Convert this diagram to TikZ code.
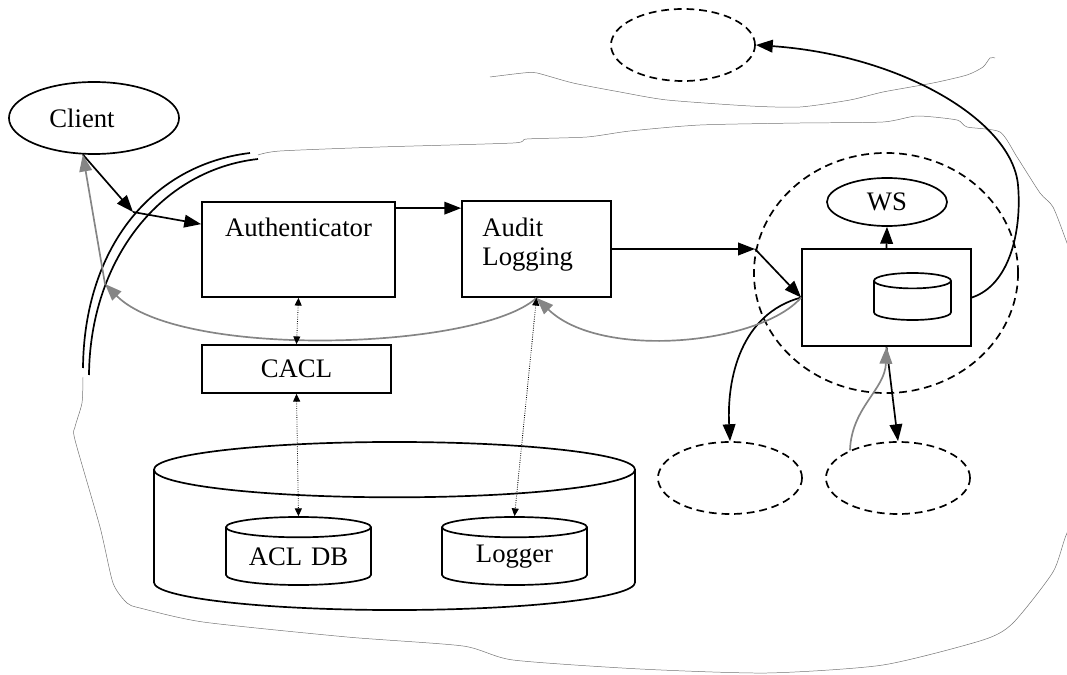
\documentclass[tikz,border=0pt]{standalone}
\usepackage{fontspec}
\setmainfont{Liberation Serif}
\usetikzlibrary{arrows.meta,shapes.geometric,calc}

\begin{document}
\begin{tikzpicture}[x=0.025cm, y=-0.025cm,
    font=\fontsize{19}{20}\selectfont,
    box/.style={draw, line width=1.2pt, inner sep=0pt},
    oval/.style={draw, ellipse, line width=1.2pt, inner sep=0pt},
    db/.style={draw, cylinder, shape border rotate=90, line width=1.2pt, inner sep=0pt, align=center, anchor=shape center},
    cloud/.style={oval, dash pattern=on 5.5pt off 3.5pt, minimum width=3.6cm, minimum height=1.8cm},
    blk/.style={-{Triangle[length=12pt,width=9pt]}, line width=1.2pt},
    gry/.style={blk, color=black!48},
    dotlink/.style={{Triangle[length=5.5pt,width=5pt]}-{Triangle[length=5.5pt,width=5pt]}, densely dotted, line width=0.6pt},
    hand/.style={color=black!55, line width=0.35pt}]
  \useasboundingbox (0,0) rectangle (1067,675);
  \clip (0,0) rectangle (1067,675);
  \draw[hand] plot[smooth, tension=0.4] coordinates {(258,155) (280,151) (380,147) (513,143) (527,139) (587,137) (630,131) (700,125) (800,123) (883,122) (917,116) (957,120) (967,127) (1000,132) (1017,157) (1040,193) (1053,207) (1067,243) (1095,320) (1095,480) (1067,533) (1053,572) (1013,623) (983,640) (883,665) (767,673) (640,669) (513,660) (463,646) (347,637) (203,622) (140,608) (127,603) (113,583) (100,527) (75,440) (75,427) (82,403) (83,377)};
  \draw[hand] plot[smooth, tension=0.4] coordinates {(490,77) (523,73) (537,73) (573,83) (620,92) (667,100) (750,106) (800,107) (850,100) (883,92) (933,83) (967,75) (983,67) (990,58) (995,58)};
  \node[oval, minimum width=4.25cm, minimum height=1.8cm, label={[inner sep=0pt, xshift=-0.3cm]center:Client}] (client) at (94,118) {};
  \node[box, minimum width=4.825cm, minimum height=2.375cm, label={[anchor=north, inner sep=0pt, yshift=-0.425cm]north:Authenticator}] (auth) at (298.5,249.5) {};
  \node[box, minimum width=3.725cm, minimum height=2.4cm, label={[anchor=north west, align=left, inner sep=0pt, xshift=0.525cm, yshift=-0.45cm]north west:{Audit\\Logging}}] (audit) at (536.5,249) {};
  \node[box, minimum width=4.725cm, minimum height=1.2cm] (cacl) at (296.5,369) {CACL};
  \node[db, text width=12.025cm, minimum height=4.2cm, aspect=0.115] (store) at (394.5,526) {};
  \node[db, text width=3.625cm, minimum height=1.7cm, aspect=0.14] (acldb) at (298.5,551) {ACL DB};
  \node[db, text width=3.625cm, minimum height=1.7cm, aspect=0.14] (logger) at (514.5,551) {Logger};
  \node[cloud, minimum width=6.6cm, minimum height=6cm] (ring) at (886,273) {};
  \node[box, minimum width=4.225cm, minimum height=2.425cm] (wsbox) at (886.5,297.5) {};
  \node[db, text width=1.925cm, minimum height=1.175cm, aspect=0.2] (cache) at (912.5,296.5) {};
  \node[oval, minimum width=3cm, minimum height=1.2cm] (ws) at (887,202) {WS};
  \node[cloud] (far) at (683,45) {};
  \node[cloud] (peerl) at (730,478) {};
  \node[cloud] (peerr) at (898,478) {};
  \coordinate (cross) at (133,212);
  \coordinate (turn) at (755,249);
  \coordinate (back) at (105,284);
  \draw[line width=1.2pt] (83,368) .. controls (84,250) and (150,165) .. (250,153);
  \draw[line width=1.2pt] (89,375) .. controls (90,260) and (160,170) .. (258,159);
  \draw[blk] (client.253) -- (cross);
  \draw[blk] (cross) -- ($(auth.north west)+(0,23)$);
  \draw[blk] ($(auth.north east)+(0,7)$) -- ($(audit.north west)+(0,8)$);
  \draw[blk] (audit.east) -- (turn);
  \draw[blk] (turn) -- (wsbox.west);
  \draw[blk] (wsbox.north) -- (ws.south);
  \draw[blk] (wsbox.south) -- (peerr.north);
  \draw[blk] (wsbox.west) to[out=195, in=93] (peerl.north);
  \draw[blk] (wsbox.east) .. controls (1010,285) and (1022,230) .. (1018,185) .. controls (1012,120) and (900,55) .. (far.east);
  \draw[gry] (wsbox.west) .. controls (760,345) and (600,360) .. (audit.south);
  \draw[gry] (audit.south) .. controls (480,350) and (180,360) .. (back);
  \draw[gry] (back) -- (client.253);
  \draw[gry] (peerr.150) to[out=88, in=-92] (wsbox.south);
  \draw[dotlink] (auth.south) -- (cacl.north);
  \draw[dotlink] (cacl.south) -- (acldb.top);
  \draw[dotlink] (audit.south) -- (logger.top);
\end{tikzpicture}
\end{document}
